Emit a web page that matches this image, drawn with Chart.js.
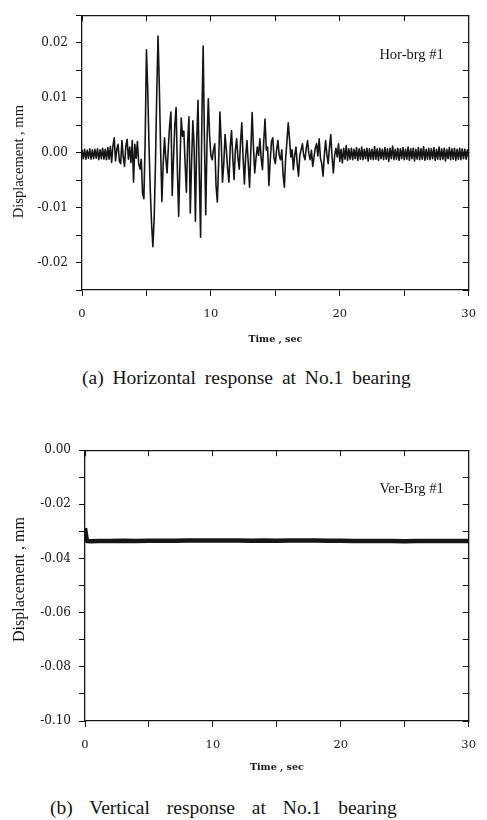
<!DOCTYPE html>
<html>
<head>
<meta charset="utf-8">
<script src="https://cdn.jsdelivr.net/npm/chart.js@4.4.1/dist/chart.umd.min.js"></script>
<style>
  html, body { margin: 0; padding: 0; background: #fff; }
  body { width: 487px; height: 820px; position: relative; overflow: hidden; }
  .wrap { position: absolute; left: 0; width: 487px; }
  canvas { display: block; }
  .cap { position: absolute; font-family: "Liberation Serif", "Times New Roman", serif; font-size: 19.5px;
         color: #151515; white-space: nowrap; line-height: 20px; }
</style>
</head>
<body>
<div class="wrap" style="top:0px;height:350px"><canvas id="c1" width="487" height="350"></canvas></div>
<div class="cap" style="left:82px;top:368px;word-spacing:4px">(a) Horizontal response at No.1 bearing</div>
<div class="wrap" style="top:435px;height:345px"><canvas id="c2" width="487" height="345"></canvas></div>
<div class="cap" style="left:50px;top:798px;word-spacing:12px">(b) Vertical response at No.1 bearing</div>

<script>
// ---------------- DATA ----------------
// (a) Horizontal displacement of bearing No.1, sampled every 0.1 s from 0 to 30 s (mm)
const H_STEP = 0.1;
const horValues = [
  0.0005,-0.0011,0.0006,-0.0012,0.0004,-0.0010,0.0007,-0.0012,0.0005,-0.0011,
  0.0006,-0.0010,0.0007,-0.0013,0.0005,-0.0011,0.0008,-0.0012,0.0006,-0.0013,
  0.0009,-0.0012,0.0011,-0.0018,0.0012,0.0027,-0.0015,0.0006,0.0015,-0.0016,
  -0.0020,0.0022,-0.0008,-0.0025,0.0012,0.0024,-0.0012,0.0010,-0.0018,0.0022,
  -0.0054,0.0015,-0.0010,0.0020,-0.0020,-0.0030,-0.0012,-0.0075,-0.0084,0.0020,
  0.0187,0.0115,0.0010,-0.0070,-0.0130,-0.0171,-0.0120,-0.0020,0.0110,0.0212,
  0.0120,0.0005,-0.0089,-0.0020,0.0027,-0.0010,-0.0037,0.0010,0.0050,0.0074,
  -0.0078,-0.0010,0.0050,0.0082,-0.0030,-0.0116,-0.0020,0.0063,0.0030,0.0039,
  -0.0020,-0.0072,0.0020,0.0065,-0.0110,-0.0020,0.0058,0.0010,-0.0125,0.0020,
  0.0095,-0.0040,-0.0154,0.0060,0.0194,0.0020,-0.0113,0.0020,0.0098,0.0030,
  -0.0005,-0.0013,0.0005,0.0016,-0.0060,-0.0090,-0.0020,0.0074,0.0020,-0.0054,
  -0.0020,0.0033,0.0005,-0.0030,-0.0054,0.0010,0.0040,-0.0010,-0.0049,0.0005,
  0.0025,-0.0010,-0.0030,0.0020,0.0054,-0.0010,-0.0057,-0.0005,0.0022,-0.0020,
  -0.0063,0.0005,0.0073,0.0010,-0.0037,-0.0010,0.0010,-0.0005,0.0025,-0.0010,
  -0.0031,0.0020,0.0061,0.0005,0.0010,-0.0060,-0.0015,0.0020,0.0027,-0.0010,
  -0.0020,0.0005,0.0022,-0.0005,-0.0013,0.0005,-0.0040,-0.0063,-0.0010,0.0020,
  0.0054,0.0025,-0.0008,0.0005,-0.0031,-0.0005,0.0010,-0.0020,-0.0043,-0.0005,
  0.0005,0.0016,-0.0005,-0.0013,0.0008,0.0022,-0.0002,-0.0013,0.0004,-0.0025,
  -0.0008,0.0008,0.0016,-0.0006,0.0025,-0.0010,-0.0020,-0.0043,-0.0005,0.0022,
  -0.0004,-0.0020,0.0010,0.0033,-0.0008,-0.0037,-0.0005,0.0008,-0.0008,0.0016,
  -0.0016,0.0006,-0.0019,0.0008,-0.0012,0.0013,-0.0014,0.0007,-0.0012,0.0008,
  -0.0013,0.0006,-0.0011,0.0009,-0.0014,0.0007,-0.0012,0.0010,-0.0013,0.0006,
  -0.0011,0.0008,-0.0015,0.0007,-0.0012,0.0006,-0.0013,0.0011,-0.0012,0.0007,
  -0.0014,0.0008,-0.0011,0.0006,-0.0013,0.0009,-0.0012,0.0007,-0.0016,0.0008,
  -0.0011,0.0012,-0.0013,0.0006,-0.0012,0.0008,-0.0014,0.0007,-0.0011,0.0009,
  -0.0013,0.0006,-0.0012,0.0010,-0.0014,0.0007,-0.0011,0.0008,-0.0015,0.0006,
  -0.0012,0.0009,-0.0013,0.0007,-0.0012,0.0011,-0.0014,0.0006,-0.0012,0.0008,
  -0.0013,0.0007,-0.0011,0.0009,-0.0014,0.0006,-0.0012,0.0010,-0.0013,0.0007,
  -0.0012,0.0008,-0.0015,0.0006,-0.0011,0.0009,-0.0013,0.0007,-0.0012,0.0008,
  -0.0014,0.0006,-0.0012,0.0008,-0.0013,0.0007,-0.0011,0.0006,-0.0012,0.0005,
  -0.0010
];
const horTimes = horValues.map((_, i) => Math.round(i * H_STEP * 10) / 10);

// (b) Vertical displacement of bearing No.1 (mm)
const verTimes  = [0, 0.15, 0.5, 1, 2, 3, 4, 5, 6, 7, 8, 9, 10, 11, 12, 13, 14, 15,
                   16, 17, 18, 19, 20, 21, 22, 23, 24, 25, 26, 27, 28, 29, 30];
const verValues = [-0.0288, -0.0335, -0.0336, -0.0335, -0.0335, -0.0334, -0.0335, -0.0334,
                   -0.0334, -0.0334, -0.0333, -0.0333, -0.0333, -0.0333, -0.0333, -0.0334,
                   -0.0333, -0.0334, -0.0333, -0.0333, -0.0333, -0.0334, -0.0334, -0.0335,
                   -0.0335, -0.0335, -0.0335, -0.0336, -0.0335, -0.0335, -0.0335, -0.0335, -0.0335];

// axis ticks
const timeTicks = [0, 10, 20, 30];
const horYTicks = [-0.02, -0.01, 0.00, 0.01, 0.02];
const verYTicks = [-0.10, -0.08, -0.06, -0.04, -0.02, 0.00];

// ---------------- CHARTS ----------------
const INK = '#151515';
Chart.defaults.font.family = '"DejaVu Serif", serif';
Chart.defaults.color = INK;

const notePlugin = {
  id: 'note',
  afterDatasetsDraw(chart, args, o) {
    const { ctx, chartArea } = chart;
    ctx.save();
    ctx.font = o.font;
    ctx.fillStyle = INK;
    ctx.textAlign = 'right';
    ctx.textBaseline = 'middle';
    ctx.fillText(o.text, chartArea.right - o.dx, chartArea.top + o.dy);
    ctx.restore();
  }
};

function isLabelled(list, v) {
  return list.some(t => Math.abs(t - v) < 1e-9);
}

function build(canvasId, cfg) {
  const points = cfg.xs.map((x, i) => ({ x, y: cfg.ys[i] }));
  const frame = { display: true, color: INK, width: 1.3 };
  return new Chart(document.getElementById(canvasId), {
    type: 'line',
    data: { datasets: [{ data: points, borderColor: INK, borderWidth: cfg.lineWidth,
                         pointRadius: 0, tension: 0, fill: false, borderJoinStyle: 'round' }] },
    plugins: [notePlugin],
    options: {
      responsive: false,
      animation: false,
      events: [],
      layout: { padding: { top: 5, right: cfg.padRight, left: 0, bottom: 0 } },
      plugins: {
        legend: { display: false },
        tooltip: { enabled: false },
        note: { text: cfg.note, font: '14.5px "Liberation Serif", serif', dx: 25, dy: cfg.noteDy }
      },
      scales: {
        x: {
          type: 'linear', position: 'bottom', min: 0, max: 30,
          ticks: { stepSize: 5, autoSkip: false, maxRotation: 0, padding: 11,
                   font: { size: 11.5 },
                   callback: v => isLabelled(timeTicks, v) ? String(v) : '' },
          grid: { drawOnChartArea: false, drawTicks: true, tickLength: 6, color: INK, lineWidth: 1 },
          border: frame,
          title: { display: true, text: 'Time , sec', color: INK,
                   font: { size: 9.5, weight: 'bold' }, padding: { top: 0, bottom: cfg.xTitlePad } },
          afterFit: s => { s.height = cfg.xAxisH; }
        },
        xTop: {
          type: 'linear', position: 'top', min: 0, max: 30,
          ticks: { display: false, stepSize: 5, autoSkip: false },
          grid: { drawOnChartArea: false, drawTicks: true, tickLength: -6, color: INK, lineWidth: 1 },
          border: frame,
          afterFit: s => { s.height = 0; }
        },
        y: {
          type: 'linear', position: 'left', min: cfg.yMin, max: cfg.yMax,
          ticks: { stepSize: cfg.yStep, autoSkip: false, padding: cfg.yTickPad,
                   font: { size: 12 },
                   callback: v => isLabelled(cfg.yLabels, v) ? (Math.round(v * 100) / 100).toFixed(2) : '' },
          grid: { drawOnChartArea: false, drawTicks: true, tickLength: 6, color: INK, lineWidth: 1 },
          border: frame,
          title: { display: true, text: cfg.yTitle, color: INK,
                   font: { family: '"Liberation Serif", serif', size: cfg.yTitleSize, weight: 'normal' },
                   padding: { top: 10, bottom: 0 } },
          afterFit: s => { s.width = cfg.yAxisW; }
        },
        yRight: {
          type: 'linear', position: 'right', min: cfg.yMin, max: cfg.yMax,
          ticks: { display: false, stepSize: cfg.yStep, autoSkip: false },
          grid: { drawOnChartArea: false, drawTicks: true, tickLength: -6, color: INK, lineWidth: 1 },
          border: frame,
          afterFit: s => { s.width = 0; }
        }
      }
    }
  });
}

build('c1', {
  xs: horTimes, ys: horValues, lineWidth: 1.6,
  yMin: -0.025, yMax: 0.025, yStep: 0.005, yLabels: horYTicks,
  yTitle: 'Displacement , mm     ', yTitleSize: 14.5,
  yAxisW: 82, yTickPad: 8, padRight: 15, xAxisH: 60, xTitlePad: 4.3,
  note: 'Hor-brg #1', noteDy: 40
});

build('c2', {
  xs: verTimes, ys: verValues, lineWidth: 4.5,
  yMin: -0.10, yMax: 0.00, yStep: 0.01, yLabels: verYTicks,
  yTitle: '   Displacement , mm', yTitleSize: 16,
  yAxisW: 85, yTickPad: 8, padRight: 14, xAxisH: 59, xTitlePad: 6.3,
  note: 'Ver-Brg #1', noteDy: 39
});
</script>
</body>
</html>
